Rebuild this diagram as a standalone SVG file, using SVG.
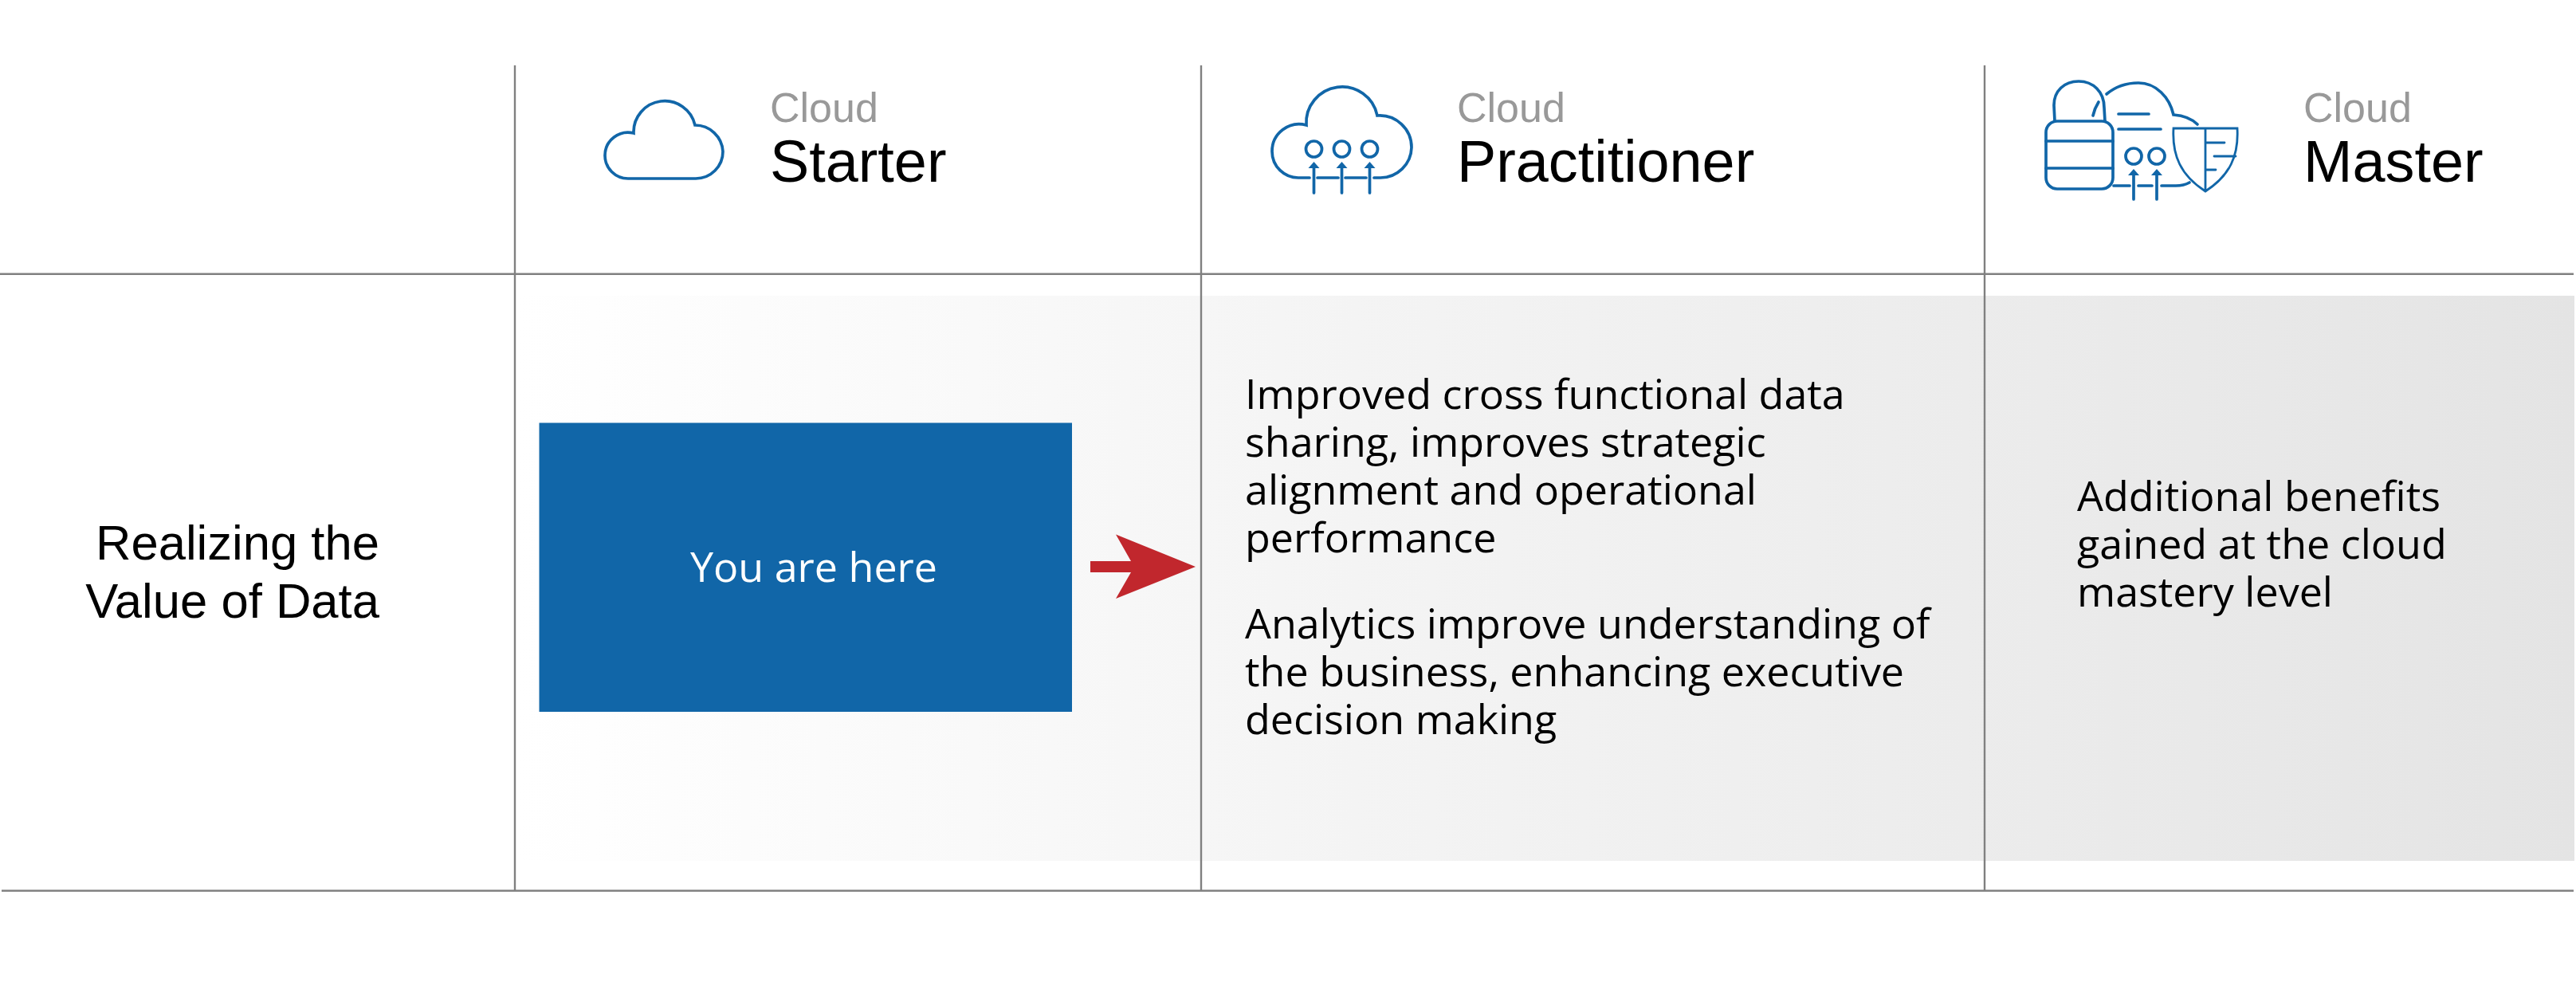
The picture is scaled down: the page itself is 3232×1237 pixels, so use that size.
<svg xmlns="http://www.w3.org/2000/svg" width="3232" height="1237" viewBox="0 0 3232 1237">
<style>
.cloud{font:52px "Liberation Sans",Arial,sans-serif;fill:#999}
.lvl{font:73.8px "Liberation Sans",Arial,sans-serif;fill:#000}
.row{font:61.6px "Liberation Sans",Arial,sans-serif;fill:#000;text-anchor:end}
.body{font:52px "Open Sans",sans-serif;fill:#000}
.ic{fill:none;stroke:#1166a8;stroke-width:3.7;stroke-linecap:round}
.hd{fill:#1166a8;stroke:none}
.rule{stroke:#808080;stroke-width:2.4;fill:none}
</style>
<defs>
<linearGradient id="band" x1="650" x2="3230" y1="0" y2="0" gradientUnits="userSpaceOnUse">
<stop offset="0" stop-color="#fff"/><stop offset="1" stop-color="#e4e4e4"/>
</linearGradient>
</defs>
<rect width="3232" height="1237" fill="#fff"/>
<rect id="band-fill" x="646" y="371" width="2584" height="709" fill="url(#band)"/>
<g id="grid">
<path class="rule" d="M0 343.7H3229M2 1117.5H3229M646 82V1117.5M1507 82V1117.5M2490 82V1117.5"/>
</g>
<g id="starter">
<path class="ic" d="M788 224H873A34 34 0 0 0 907 190A35 35 0 0 0 872 157A39 39 0 0 0 795 167A29 29 0 0 0 759 195A29 29 0 0 0 788 224Z"/>
<text class="cloud" x="966" y="153">Cloud</text>
<text class="lvl" x="966" y="228">Starter</text>
</g>
<g id="practitioner">
<path class="ic" d="M1643 223H1630A33 33 0 0 1 1596 190A34 34 0 0 1 1639 157A45 45 0 0 1 1728 145A40 40 0 0 1 1771 185A39 39 0 0 1 1732 223H1724M1653 223H1679M1688 223H1714"/>
<circle class="ic" cx="1648.5" cy="187" r="10"/><circle class="ic" cx="1683.5" cy="187" r="10"/><circle class="ic" cx="1718.5" cy="187" r="10"/>
<path class="ic" d="M1648.5 242V208M1683.5 242V208M1718.5 242V208"/>
<path class="hd" d="M1648.5 203l7 8h-14zM1683.5 203l7 8h-14zM1718.5 203l7 8h-14z"/>
<text class="cloud" x="1828" y="153">Cloud</text>
<text class="lvl" x="1828" y="228">Practitioner</text>
</g>
<g id="master">
<rect class="ic" x="2567" y="152" width="84" height="85" rx="14"/>
<path class="ic" d="M2567 177H2651M2567 211H2651M2578 152L2577 132C2577 114 2590 102 2608 102C2626 102 2640 115 2640 135L2641 152M2626 145Q2628 136 2633 128"/>
<path class="ic" d="M2643 118C2655 108 2668 104 2683 104C2705 104 2722 122 2727 144C2740 145 2750 149 2757 156M2658 143H2696M2658 162H2711M2652 233H2672M2683 233H2700M2712 233H2730Q2740 233 2747 229"/>
<circle class="ic" cx="2677" cy="196" r="10"/><circle class="ic" cx="2706" cy="196" r="10"/>
<path class="ic" d="M2677 250V216M2706 250V216"/>
<path class="hd" d="M2677 212l7 8h-14zM2706 212l7 8h-14z"/>
<path class="ic" style="stroke-width:2.8" d="M2727 161H2807C2809 195 2798 220 2767 240C2736 220 2725 195 2727 161ZM2767 161V240M2767 179H2791M2778 196H2805M2767 213H2780"/>
<text class="cloud" x="2890" y="153">Cloud</text>
<text class="lvl" x="2890" y="228">Master</text>
</g>
<g id="row-label">
<text class="row" x="476" y="702">Realizing the</text>
<text class="row" x="476" y="775">Value of Data</text>
</g>
<g id="you-are-here">
<rect x="676.5" y="530.5" width="668.5" height="362.5" fill="#1166a8"/>
<text class="body" x="1021" y="730" text-anchor="middle" style="fill:#fff">You are here</text>
</g>
<g id="connectors">
<path d="M1368 704H1419L1400 670.5L1500 711L1400 751L1419 718H1368Z" fill="#c1272d"/>
</g>
<g id="practitioner-text">
<text class="body" x="1562" y="513">Improved cross functional data</text>
<text class="body" x="1562" y="573">sharing, improves strategic</text>
<text class="body" x="1562" y="633">alignment and operational</text>
<text class="body" x="1562" y="693">performance</text>
<text class="body" x="1562" y="801">Analytics improve understanding of</text>
<text class="body" x="1562" y="861">the business, enhancing executive</text>
<text class="body" x="1562" y="921">decision making</text>
</g>
<g id="master-text">
<text class="body" x="2606" y="641">Additional benefits</text>
<text class="body" x="2606" y="701">gained at the cloud</text>
<text class="body" x="2606" y="761">mastery level</text>
</g>
</svg>
